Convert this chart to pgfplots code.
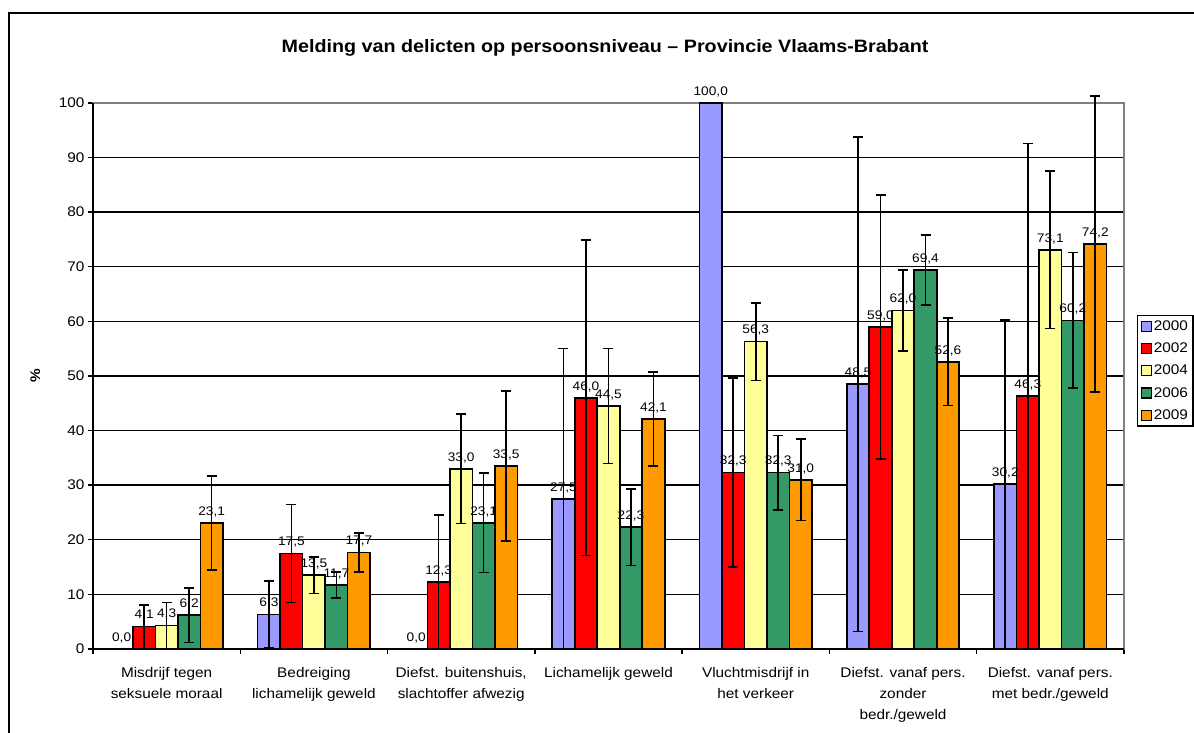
\documentclass[border=0pt]{standalone}
\usepackage{pgfplots}
\usepackage{pgfplotstable}
\usepackage{fontspec}
\pgfplotsset{compat=1.18}
\setmainfont{Liberation Sans}[FakeStretch=1.1]
\definecolor{c2000}{HTML}{9999FF}
\definecolor{c2002}{HTML}{FF0000}
\definecolor{c2004}{HTML}{FFFF99}
\definecolor{c2006}{HTML}{339966}
\definecolor{c2009}{HTML}{FF9900}
\pgfplotstableread{
x  a     ea    b     eb    c     ec    d     ed    e     ee
0  0.0   0.0   4.1   4.0   4.3   4.2   6.2   5.0   23.1  8.6
1  6.3   6.1   17.5  9.0   13.5  3.3   11.7  2.4   17.7  3.6
2  0.0   0.0   12.3  12.2  33.0  10.0  23.1  9.1   33.5  13.7
3  27.5  27.5  46.0  28.9  44.5  10.5  22.3  7.0   42.1  8.6
4  100.0 0.0   32.3  17.3  56.3  7.1   32.3  6.8   31.0  7.5
5  48.5  45.3  59.0  24.2  62.0  7.4   69.4  6.4   52.6  8.0
6  30.2  30.1  46.3  46.3  73.1  14.4  60.2  12.4  74.2  27.1
}\datatable
\begin{document}
\begin{tikzpicture}
\path[use as bounding box] (0,0) rectangle (1194bp,733bp);
\draw[line width=1.5bp] (9bp,-5bp) -- (9bp,720bp) -- (1200bp,720bp);
\node[font=\bfseries\fontsize{18}{20}\selectfont] at (605bp,685bp) {Melding van delicten op persoonsniveau – Provincie Vlaams-Brabant};
\begin{axis}[
  name=ax, at={(93bp,84bp)}, anchor=south west,
  scale only axis, width=1031bp, height=546bp,
  xmin=-0.5, xmax=6.5, ymin=0, ymax=100,
  ybar=0pt, bar width=22.5bp,
  /pgf/number format/assume math mode=true,
  ytick={0,10,...,100},
  ymajorgrids, grid style={black, line width=1.4bp},
  x tick label as interval,
  xtick={-0.5,0.5,...,6.5},
  xticklabels={{Misdrijf tegen\\seksuele moraal},{Bedreiging\\lichamelijk geweld},{Diefst. buitenshuis,\\slachtoffer afwezig},{Lichamelijk geweld},{Vluchtmisdrijf in\\het verkeer},{Diefst. vanaf pers.\\zonder\\bedr./geweld},{Diefst. vanaf pers.\\met bedr./geweld}},
  xticklabel style={align=center, font=\fontsize{14}{21}\selectfont, yshift=-10bp},
  yticklabel style={font=\fontsize{14}{16}\selectfont},
  xtick pos=bottom, ytick pos=left,
  tick align=outside, major tick length=5bp,
  tick style={black, line width=1.4bp},
  axis line style={gray, line width=1.4bp},
  ylabel={\%},
  ylabel style={at={(axis description cs:-0.056,0.5)}, anchor=center, font=\bfseries\fontsize{14}{16}\selectfont},
  clip=false,
  every axis plot/.append style={draw=black, line width=1.6bp},
  nodes near coords={\pgfmathprintnumber[fixed,fixed zerofill,precision=1,use comma]{\pgfplotspointmeta}},
  every node near coord/.append style={font=\fontsize{12.5}{14}\selectfont, text=black, yshift=2bp},
  error bars/y dir=both, error bars/y explicit,
  error bars/error bar style={black, line width=1.6bp},
  error bars/error mark options={rotate=90, black, line width=1.6bp, mark size=5bp},
  legend style={at={(1.0126,0.6117)}, anchor=north west, draw=black, line width=1.4bp,
    font=\fontsize{14}{16}\selectfont, row sep=7bp, inner sep=3bp},
  legend cell align=left,
  legend image code/.code={\draw[#1, line width=1.2bp] (0bp,-5bp) rectangle (10bp,5bp);},
]
\addplot[fill=c2000] table[x=x, y=a, y error=ea] {\datatable};
\addplot[fill=c2002] table[x=x, y=b, y error=eb] {\datatable};
\addplot[fill=c2004] table[x=x, y=c, y error=ec] {\datatable};
\addplot[fill=c2006] table[x=x, y=d, y error=ed] {\datatable};
\addplot[fill=c2009] table[x=x, y=e, y error=ee] {\datatable};
\legend{2000,2002,2004,2006,2009}
\end{axis}
\draw[black, line width=1.4bp] (ax.north west) -- (ax.south west) -- (ax.south east);
\end{tikzpicture}
\end{document}
